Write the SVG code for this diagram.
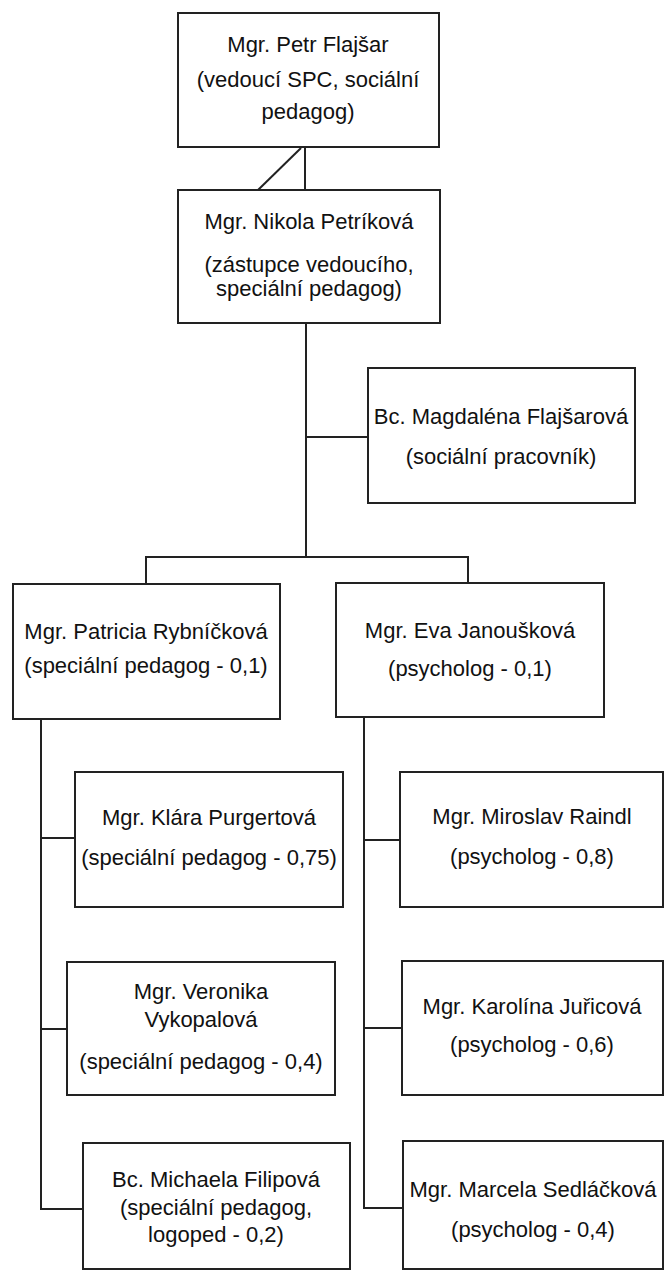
<svg xmlns="http://www.w3.org/2000/svg" width="665" height="1271" viewBox="0 0 665 1271">
<style>
.box{fill:#fff;stroke:#222;stroke-width:2}
.ln{fill:none;stroke:#222;stroke-width:2}
text{font-family:"Liberation Sans",Arial,sans-serif;font-size:22px;fill:#111;text-anchor:middle}
</style>
<rect x="0" y="0" width="665" height="1271" fill="#fff"/>
<g id="connectors">
<line class="ln" x1="305" y1="147" x2="305" y2="190"/>
<line class="ln" x1="301" y1="148" x2="258" y2="190"/>
<line class="ln" x1="306" y1="323" x2="306" y2="557"/>
<line class="ln" x1="306" y1="437" x2="368" y2="437"/>
<polyline class="ln" points="146,584 146,557 468,557 468,583"/>
<polyline class="ln" points="41,719 41,1209 83,1209"/>
<line class="ln" x1="41" y1="838" x2="75" y2="838"/>
<line class="ln" x1="41" y1="1029" x2="67" y2="1029"/>
<polyline class="ln" points="364,717 364,1208 403,1208"/>
<line class="ln" x1="364" y1="840" x2="400" y2="840"/>
<line class="ln" x1="364" y1="1028" x2="402" y2="1028"/>
</g>
<g id="n-flajsar">
<rect class="box" x="178" y="13" width="261" height="134"/>
<text x="308" y="52">Mgr. Petr Flajšar</text>
<text x="308" y="87">(vedoucí SPC, sociální</text>
<text x="308" y="119">pedagog)</text>
</g>
<g id="n-petrikova">
<rect class="box" x="178" y="190" width="262" height="133"/>
<text x="309" y="229">Mgr. Nikola Petríková</text>
<text x="309" y="272">(zástupce vedoucího,</text>
<text x="309" y="296">speciální pedagog)</text>
</g>
<g id="n-flajsarova">
<rect class="box" x="368" y="368" width="267" height="135"/>
<text x="501" y="424">Bc. Magdaléna Flajšarová</text>
<text x="501" y="464">(sociální pracovník)</text>
</g>
<g id="n-rybnickova">
<rect class="box" x="13" y="584" width="267" height="135"/>
<text x="146" y="639">Mgr. Patricia Rybníčková</text>
<text x="146" y="673">(speciální pedagog - 0,1)</text>
</g>
<g id="n-janouskova">
<rect class="box" x="336" y="583" width="268" height="134"/>
<text x="470" y="638">Mgr. Eva Janoušková</text>
<text x="470" y="676">(psycholog - 0,1)</text>
</g>
<g id="n-purgertova">
<rect class="box" x="75" y="772" width="268" height="135"/>
<text x="209" y="825">Mgr. Klára Purgertová</text>
<text x="209" y="865">(speciální pedagog - 0,75)</text>
</g>
<g id="n-vykopalova">
<rect class="box" x="67" y="962" width="268" height="133"/>
<text x="201" y="999">Mgr. Veronika</text>
<text x="201" y="1027">Vykopalová</text>
<text x="201" y="1069">(speciální pedagog - 0,4)</text>
</g>
<g id="n-filipova">
<rect class="box" x="83" y="1143" width="267" height="126"/>
<text x="216" y="1187">Bc. Michaela Filipová</text>
<text x="216" y="1215">(speciální pedagog,</text>
<text x="216" y="1242">logoped - 0,2)</text>
</g>
<g id="n-raindl">
<rect class="box" x="400" y="772" width="263" height="135"/>
<text x="532" y="824">Mgr. Miroslav Raindl</text>
<text x="532" y="864">(psycholog - 0,8)</text>
</g>
<g id="n-juricova">
<rect class="box" x="402" y="961" width="261" height="134"/>
<text x="532" y="1014">Mgr. Karolína Juřicová</text>
<text x="532" y="1052">(psycholog - 0,6)</text>
</g>
<g id="n-sedlackova">
<rect class="box" x="403" y="1141" width="260" height="128"/>
<text x="533" y="1197">Mgr. Marcela Sedláčková</text>
<text x="533" y="1237">(psycholog - 0,4)</text>
</g>
</svg>
